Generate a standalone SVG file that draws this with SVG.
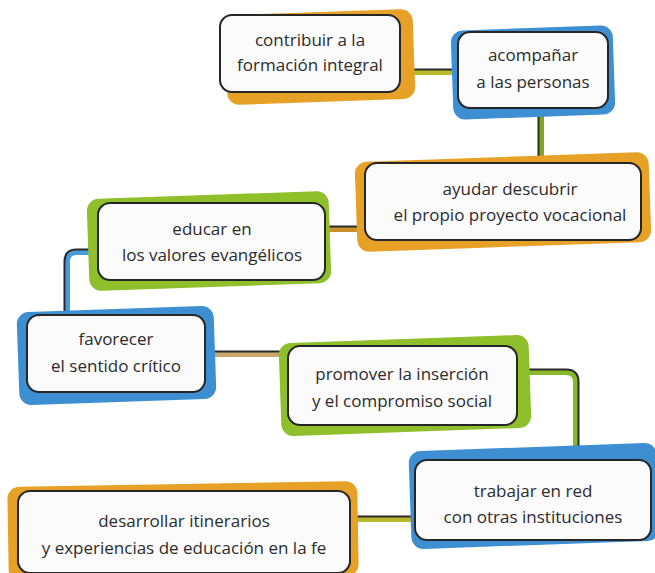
<svg xmlns="http://www.w3.org/2000/svg" width="655" height="573" viewBox="0 0 655 573">
<style>
.box{fill:#fbfbfb;stroke:#262626;stroke-width:2}
.or{fill:#e6a126}
.bl{fill:#3d8fd2}
.gr{fill:#8fbf2a}
.t{font-family:"Open Sans","Noto Sans",sans-serif;font-size:17px;fill:#2b2b2b;text-anchor:middle}
.dk{fill:none;stroke:#2a2a2a;stroke-width:2}
</style>
<rect width="655" height="573" fill="#ffffff"/>
<g id="connectors" fill="none">
<path d="M398,72 H460" stroke="#b9b92c" stroke-width="6"/>
<path d="M398,69.5 H460" class="dk"/>
<path d="M541,106 V166" stroke="#86a424" stroke-width="6"/>
<path d="M538.5,106 V166" class="dk"/>
<path d="M323,229 H367" stroke="#c9902c" stroke-width="6"/>
<path d="M323,226.5 H367" class="dk"/>
<path d="M100,252 H76 Q67,252 67,262 V318" stroke="#4d9ad8" stroke-width="6"/>
<path d="M100,249.5 H76 Q64.5,249.5 64.5,262 V318" class="dk"/>
<path d="M203,354 H290" stroke="#c9a870" stroke-width="6"/>
<path d="M203,351.5 H290" class="dk"/>
<path d="M515,372 H566 Q576,372 576,382 V462" stroke="#86b82a" stroke-width="6"/>
<path d="M515,369.5 H566 Q578.5,369.5 578.5,382 V462" class="dk"/>
<path d="M348,519 H418" stroke="#b9b92c" stroke-width="6"/>
<path d="M348,516.5 H418" class="dk"/>
</g>
<g id="n1">
<rect class="or" x="226" y="12" width="188" height="90" rx="12" transform="rotate(-2 320 57)"/>
<rect class="box" x="220" y="15" width="180" height="77" rx="12"/>
<text class="t" x="310" y="46">contribuir a la</text>
<text class="t" x="310" y="71">formación integral</text>
</g>
<g id="n2">
<rect class="bl" x="452" y="28" width="162" height="89" rx="12" transform="rotate(-2 533 72)"/>
<rect class="box" x="458" y="32" width="150" height="76" rx="12"/>
<text class="t" x="533" y="61">acompañar</text>
<text class="t" x="533" y="88">a las personas</text>
</g>
<g id="n3">
<rect class="or" x="356" y="157" width="294" height="90" rx="12" transform="rotate(-2 503 202)"/>
<rect class="box" x="365" y="163" width="276" height="77" rx="12"/>
<text class="t" x="510" y="195">ayudar descubrir</text>
<text class="t" x="510" y="221">el propio proyecto vocacional</text>
</g>
<g id="n4">
<rect class="gr" x="88" y="195" width="242" height="92" rx="12" transform="rotate(-2 209 241)"/>
<rect class="box" x="98" y="203" width="227" height="77" rx="12"/>
<text class="t" x="212" y="235">educar en</text>
<text class="t" x="212" y="261">los valores evangélicos</text>
</g>
<g id="n5">
<rect class="bl" x="18" y="309" width="197" height="93" rx="12" transform="rotate(-2 116 355)"/>
<rect class="box" x="27" y="315" width="178" height="77" rx="12"/>
<text class="t" x="116" y="345">favorecer</text>
<text class="t" x="116" y="372">el sentido crítico</text>
</g>
<g id="n6">
<rect class="gr" x="280" y="339" width="250" height="93" rx="12" transform="rotate(-2 405 385)"/>
<rect class="box" x="288" y="346" width="229" height="79" rx="12"/>
<text class="t" x="402" y="380">promover la inserción</text>
<text class="t" x="402" y="407">y el compromiso social</text>
</g>
<g id="n7">
<rect class="bl" x="410" y="447" width="248" height="98" rx="12" transform="rotate(-2 534 496)"/>
<rect class="box" x="415" y="460" width="236" height="80" rx="12"/>
<text class="t" x="533" y="497">trabajar en red</text>
<text class="t" x="533" y="523">con otras instituciones</text>
</g>
<g id="n8">
<rect class="or" x="8" y="484" width="350" height="95" rx="12" transform="rotate(-1 183 531)"/>
<rect class="box" x="18" y="491" width="332" height="82" rx="12"/>
<text class="t" x="184" y="527">desarrollar itinerarios</text>
<text class="t" x="184" y="554">y experiencias de educación en la fe</text>
</g>
</svg>
